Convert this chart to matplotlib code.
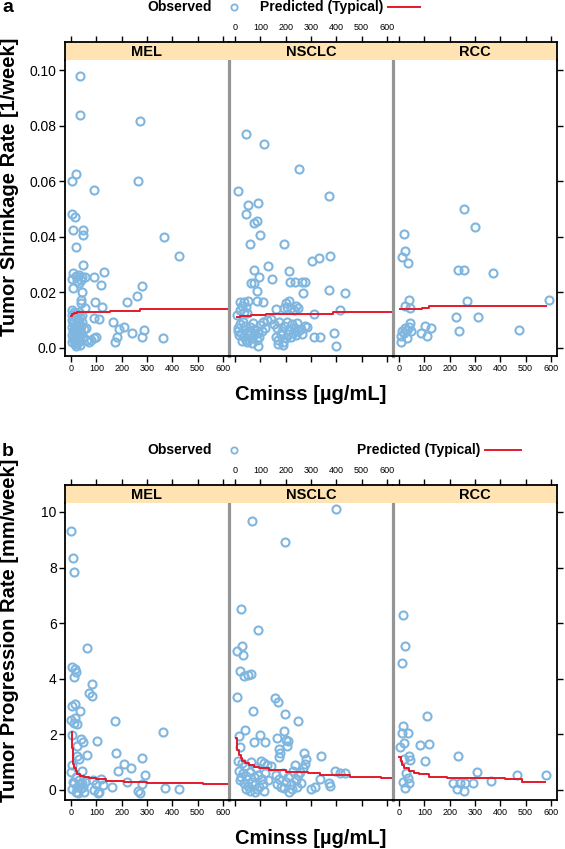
import matplotlib; matplotlib.use("Agg")
import matplotlib.pyplot as plt
from matplotlib.lines import Line2D

plt.rcParams['font.family'] = ['Liberation Sans', 'DejaVu Sans']

PANELS = ["MEL", "NSCLC", "RCC"]

# ---- (a) tumor shrinkage rate, observed ----
mel_a_x = [37, 37, 274, 18, 5, 266, 91, 4, 15, 7, 47, 47, 18, 368, 426, 48,
           7, 18, 31, 44, 54, 4, 24, 38, 30, 89, 132, 120, 279, 8, 42, 260, 219, 93,
           40, 40, 123, 55, 90, 112, 166, 209, 188, 290, 239, 182, 175, 279, 362,
           71, 80, 92, 98, 64,
           2, 10, 20, 30, 5, 15, 25, 35, 45, 3, 12, 22, 32, 42, 8, 18, 28, 38,
           2, 14, 24, 34, 50, 6, 16, 26, 40, 3, 11, 21, 31, 46, 7, 17, 27, 37,
           4, 14, 24, 34, 20, 58]
mel_a_y = [0.098, 0.0837, 0.0818, 0.0626, 0.0600, 0.0601, 0.0569, 0.0482, 0.0472, 0.0424, 0.0424, 0.0406,
           0.0362, 0.0400, 0.0329, 0.0299,
           0.0269, 0.0260, 0.0263, 0.0255, 0.0255, 0.0248, 0.0242, 0.0245, 0.0232, 0.0255, 0.0275, 0.0225,
           0.0224, 0.0215, 0.0203, 0.0187, 0.0165, 0.0167,
           0.0173, 0.0161, 0.0149, 0.0143, 0.0107, 0.0103, 0.0094, 0.0077, 0.0067, 0.0065, 0.0053, 0.0041,
           0.0023, 0.0041, 0.0034,
           0.0023, 0.0028, 0.0034, 0.0041, 0.0030,
           0.0135, 0.0128, 0.0125, 0.0130, 0.0118, 0.0112, 0.0115, 0.0110, 0.0118, 0.0100, 0.0098, 0.0102,
           0.0095, 0.0092, 0.0088, 0.0082, 0.0085, 0.0080,
           0.0075, 0.0070, 0.0072, 0.0066, 0.0068, 0.0060, 0.0055, 0.0058, 0.0052, 0.0045, 0.0042, 0.0046,
           0.0040, 0.0038, 0.0032, 0.0028, 0.0030, 0.0025,
           0.0020, 0.0015, 0.0018, 0.0012, 0.0008, 0.0072]

nsclc_a_x = [45, 116, 251, 13, 372, 51, 89, 45, 75, 87, 100, 57, 193, 304, 333, 376, 131, 73, 95, 145,
             215, 63, 75, 85, 217, 235, 263, 277, 268, 371, 435, 85, 111,
             21, 35, 50, 28, 42, 20, 35, 48, 8,
             161, 200, 213, 207, 193, 220, 233, 240, 248, 312, 416, 125, 141,
             10, 20, 30, 40, 50, 60, 70, 80, 90, 100, 110, 120, 15, 25, 35, 45, 55, 65, 75, 85, 95, 105,
             28, 48, 68, 92, 12, 62,
             155, 165, 175, 185, 195, 205, 215, 225, 235, 245, 260, 275, 285, 160, 170, 180, 190, 200,
             210, 220, 230, 240, 250, 170, 190, 265,
             336, 389, 397, 312]
nsclc_a_y = [0.0770, 0.0734, 0.0644, 0.0564, 0.0547, 0.0514, 0.0521, 0.0482, 0.0449, 0.0456, 0.0405,
             0.0373, 0.0373, 0.0313, 0.0322, 0.0330, 0.0295, 0.0281, 0.0257, 0.0247,
             0.0277, 0.0232, 0.0232, 0.0206, 0.0239, 0.0239, 0.0237, 0.0237, 0.0196, 0.0209, 0.0199,
             0.0170, 0.0164,
             0.0167, 0.0165, 0.0169, 0.0152, 0.0147, 0.0137, 0.0131, 0.0125, 0.0117,
             0.0139, 0.0160, 0.0169, 0.0148, 0.0142, 0.0142, 0.0137, 0.0151, 0.0145, 0.0121, 0.0135,
             0.0101, 0.0103,
             0.0070, 0.0085, 0.0095, 0.0080, 0.0062, 0.0075, 0.0088, 0.0068, 0.0055, 0.0082, 0.0092,
             0.0070, 0.0045, 0.0055, 0.0040, 0.0030, 0.0045, 0.0035, 0.0050, 0.0028, 0.0040, 0.0060,
             0.0025, 0.0020, 0.0019, 0.0008, 0.0060, 0.0058,
             0.0085, 0.0070, 0.0092, 0.0060, 0.0080, 0.0095, 0.0065, 0.0085, 0.0072, 0.0090, 0.0068,
             0.0080, 0.0075, 0.0040, 0.0030, 0.0045, 0.0020, 0.0035,
             0.0050, 0.0040, 0.0055, 0.0045, 0.0060, 0.0015, 0.0010, 0.0050,
             0.0041, 0.0053, 0.0008, 0.0038]

rcc_a_x = [20, 22, 12, 34, 258, 299, 232, 256, 372, 40, 270, 592, 22, 45, 223, 310, 45, 38, 25, 12,
           32, 18, 49, 9, 32, 9, 104, 128, 88, 109, 235, 473]
rcc_a_y = [0.0411, 0.0347, 0.0326, 0.0306, 0.0499, 0.0434, 0.0281, 0.0281, 0.0270, 0.0173, 0.0168,
           0.0173, 0.0151, 0.0145, 0.0110, 0.0113, 0.0091, 0.0077, 0.0071, 0.0062,
           0.0065, 0.0055, 0.0062, 0.0043, 0.0034, 0.0023, 0.0080, 0.0073, 0.0055, 0.0044, 0.0062, 0.0065]

# ---- (a) predicted (typical) step lines ----
mel_a_px = [1, 5, 11, 24, 152, 273, 624]
mel_a_py = [0.0115, 0.0121, 0.0127, 0.0131, 0.0134, 0.0140, 0.0140]
nsclc_a_px = [8, 20, 64, 121, 388, 624]
nsclc_a_py = [0.0112, 0.0116, 0.0120, 0.0123, 0.0128, 0.0128]
rcc_a_px = [5, 60, 91, 117, 582]
rcc_a_py = [0.0139, 0.0141, 0.0145, 0.0151, 0.0151]

# ---- (b) tumor progression rate, observed ----
mel_b_x = [1, 8, 11, 62, 4, 15, 18, 11, 82, 69, 81, 4, 15, 35, 1, 15, 24, 11, 175, 362, 4, 38, 48, 102,
           24, 179, 61, 24, 31, 279, 209, 237, 187, 292, 4, 1, 42,
           18, 31, 45, 11, 24, 38, 51, 18, 4, 8, 35, 28, 48, 55,
           88, 118, 98, 125, 92, 112, 105, 163, 222, 279, 263, 271, 370, 426]
mel_b_y = [9.30, 8.34, 7.85, 5.10, 4.44, 4.34, 4.23, 4.08, 3.81, 3.50, 3.38, 3.02, 3.09, 2.84, 2.52,
           2.58, 2.36, 2.40, 2.47, 2.10, 1.98, 1.83, 1.74, 1.75,
           1.58, 1.32, 1.26, 1.22, 1.10, 1.16, 0.94, 0.78, 0.68, 0.54, 0.90, 0.66, 0.70,
           0.48, 0.36, 0.26, 0.24, 0.12, 0.06, -0.06, -0.06, 0.02, 0.30, 0.20, -0.10, 0.10, 0.30,
           0.36, 0.38, 0.22, 0.18, 0.00, -0.06, -0.12, 0.10, 0.30, 0.22, -0.02, -0.10, 0.07, 0.05]

nsclc_b_x = [399, 65, 196, 23, 89, 28, 8, 32, 19, 37, 51, 64, 8, 157, 168, 71, 199, 248, 39, 15, 97,
             192, 165, 201, 208, 205, 75, 119, 19, 172, 177, 175, 271, 281, 275, 339, 395, 415, 435,
             335, 371, 375, 301, 317,
             11, 28, 41, 61, 81, 101, 115, 128, 141, 15, 30, 45, 60, 75, 90, 105, 120, 20, 35, 50, 65,
             80, 95, 110, 130, 43, 79, 116, 60, 85, 25,
             160, 175, 190, 200, 210, 220, 230, 240, 250, 260, 270, 180, 193, 212, 225, 245, 165, 255, 235]
nsclc_b_y = [10.11, 9.68, 8.92, 6.52, 5.74, 5.16, 5.00, 4.86, 4.29, 4.10, 4.14, 4.16, 3.33, 3.30, 3.15,
             2.85, 2.73, 2.47, 2.16, 1.95, 1.98,
             2.12, 1.88, 1.80, 1.76, 1.58, 1.74, 1.74, 1.53, 1.47, 1.32, 1.20, 1.32, 1.10, 0.94, 1.24,
             0.68, 0.62, 0.62, 0.38, 0.24, 0.14, 0.04, 0.12,
             1.06, 0.98, 0.88, 1.00, 0.80, 1.06, 0.98, 0.90, 0.86, 0.70, 0.60, 0.52, 0.65, 0.45, 0.55,
             0.40, 0.62, 0.35, 0.25, 0.15, 0.30, 0.20, 0.10, 0.22, 0.35, 0.05, -0.06, -0.02, -0.05,
             0.02, 0.45,
             0.55, 0.40, 0.62, 0.30, 0.48, 0.20, 0.70, 0.35, 0.55, 0.25, 0.80, 0.10, 0.07, -0.06, 0.05,
             0.12, 0.22, 0.65, 0.90]

rcc_b_x = [16, 25, 12, 109, 14, 12, 34, 18, 5, 84, 119, 18, 41, 45, 101, 231, 29, 34, 16, 41, 25, 306,
           466, 581, 213, 229, 242, 256, 262, 292, 364]
rcc_b_y = [6.31, 5.18, 4.58, 2.66, 2.30, 2.06, 2.04, 1.70, 1.53, 1.61, 1.64, 1.10, 1.22, 1.08, 1.06,
           1.21, 0.62, 0.44, 0.30, 0.24, 0.06, 0.64, 0.53, 0.55, 0.26, 0.02, 0.26, -0.02, 0.24, 0.24, 0.31]

# ---- (b) predicted (typical) step lines ----
mel_b_px = [2, 4, 6, 9, 13, 18, 25, 35, 50, 70, 100, 139, 210, 300, 400, 520, 624]
mel_b_py = [2.10, 1.50, 1.15, 0.95, 0.80, 0.68, 0.58, 0.50, 0.45, 0.42, 0.40, 0.34, 0.30, 0.26,
            0.24, 0.21, 0.18]
nsclc_b_px = [5, 9, 15, 22, 29, 40, 56, 75, 96, 136, 203, 289, 336, 456, 576, 624]
nsclc_b_py = [1.86, 1.45, 1.25, 1.15, 1.05, 0.97, 0.90, 0.83, 0.78, 0.72, 0.64, 0.60, 0.55, 0.48,
              0.42, 0.42]
rcc_b_px = [1, 6, 12, 20, 38, 60, 78, 117, 190, 289, 420, 486, 578]
rcc_b_py = [1.20, 1.05, 0.90, 0.80, 0.68, 0.60, 0.56, 0.48, 0.44, 0.42, 0.38, 0.30, 0.30]

x_ticks = [0, 100, 200, 300, 400, 500, 600]
ya_ticks = [0.0, 0.02, 0.04, 0.06, 0.08, 0.10]
ya_labels = ["0.0", "0.02", "0.04", "0.06", "0.08", "0.10"]
yb_ticks = [0, 2, 4, 6, 8, 10]

W, H = 565, 849
OBS_C = "#7fb6df"
PRED_C = "#e3192b"
STRIP_C = "#ffe3b3"
DIV_C = "#959595"
STRIP_H = 18


def fx(px): return px / W
def fy(py): return 1 - py / H


def row(top_px, bot_px, ylim, yticks, ylabels, obs, pred, ylab, letter, leg):
    # top_px = top of strip, bot_px = bottom of plotting region (pixels from top)
    x0, x1 = 65, 557
    pw = (x1 - x0) / 3
    ptop = top_px + STRIP_H
    for i in range(3):
        left = fx(x0 + i * pw)
        ax = fig.add_axes([left, fy(bot_px), pw / W, (bot_px - ptop) / H])
        ax.set_facecolor("none")
        st = fig.add_axes([left, fy(ptop), pw / W, STRIP_H / H])
        ox, oy = obs[i]
        px, py = pred[i]
        ax.plot(ox, oy, ls="none", marker="o", ms=5.8, mfc="none", mec=OBS_C, mew=1.5, clip_on=False)
        ax.plot(px, py, color=PRED_C, lw=1.4, drawstyle="steps-post")
        ax.set_xlim(-24, 624); ax.set_ylim(*ylim)
        ax.set_xticks(x_ticks)
        ax.tick_params(axis="x", direction="out", length=4, width=1, labelsize=6.5, pad=2,
                       labelbottom=(i != 1))
        ax.set_yticks(yticks)
        if i == 0:
            ax.set_yticklabels(ylabels)
            ax.tick_params(axis="y", direction="out", length=4, width=1, labelsize=10, pad=2)
        elif i == 2:
            ax.yaxis.tick_right()
            ax.tick_params(axis="y", direction="out", length=4, width=1, labelright=False)
        else:
            ax.tick_params(axis="y", length=0, labelleft=False)
        ax.spines["top"].set_visible(False)
        ax.spines["bottom"].set_linewidth(1.3)
        ax.spines["left"].set_visible(i == 0)
        ax.spines["left"].set_linewidth(1.3)
        if i == 2:
            ax.spines["right"].set_linewidth(1.3)
        else:
            ax.spines["right"].set_color(DIV_C); ax.spines["right"].set_linewidth(2.3)

        st.set_facecolor(STRIP_C)
        st.set_xlim(-24, 624); st.set_ylim(0, 1)
        st.xaxis.tick_top(); st.set_xticks(x_ticks); st.set_yticks([])
        st.tick_params(axis="x", direction="out", length=4.5, width=1, labelsize=6.5, pad=2.5,
                       labeltop=(i == 1))
        st.spines["bottom"].set_visible(False)
        st.spines["top"].set_linewidth(1.3)
        st.spines["left"].set_visible(i == 0); st.spines["left"].set_linewidth(1.3)
        st.spines["right"].set_visible(i == 2); st.spines["right"].set_linewidth(1.3)
        st.text(0.5, 0.45, PANELS[i], transform=st.transAxes, ha="center", va="center",
                fontsize=10.5, fontweight="bold")

    fig.text(fx(10), fy((top_px + bot_px) / 2 - 12), ylab, rotation=90, ha="center", va="center",
             fontsize=14.5, fontweight="bold")
    fig.text(fx(311), fy(bot_px + 39), "Cminss [\u00b5g/mL]", ha="center", va="center",
             fontsize=14.5, fontweight="bold")
    ly = top_px - 35
    fig.text(fx(2), fy(ly + 1), letter, ha="left", va="center", fontsize=14, fontweight="bold")
    fig.text(fx(212), fy(ly), "Observed", ha="right", va="center", fontsize=10, fontweight="bold")
    fig.add_artist(Line2D([fx(234)], [fy(ly)], ls="none", marker="o", ms=4.5, mfc="none",
                          mec=OBS_C, mew=1.3))
    fig.text(fx(leg[0]), fy(ly), "Predicted (Typical)", ha="right", va="center",
             fontsize=10, fontweight="bold")
    fig.add_artist(Line2D([fx(leg[1]), fx(leg[2])], [fy(ly), fy(ly)], color=PRED_C, lw=1.4))


fig = plt.figure(figsize=(W / 100, H / 100), dpi=100)

row(42, 356, (-0.0029, 0.1036), ya_ticks, ya_labels,
    [(mel_a_x, mel_a_y), (nsclc_a_x, nsclc_a_y), (rcc_a_x, rcc_a_y)],
    [(mel_a_px, mel_a_py), (nsclc_a_px, nsclc_a_py), (rcc_a_px, rcc_a_py)],
    "Tumor Shrinkage Rate [1/week]", "a", (383, 388, 420))

row(485, 800, (-0.36, 10.32), yb_ticks, [str(t) for t in yb_ticks],
    [(mel_b_x, mel_b_y), (nsclc_b_x, nsclc_b_y), (rcc_b_x, rcc_b_y)],
    [(mel_b_px, mel_b_py), (nsclc_b_px, nsclc_b_py), (rcc_b_px, rcc_b_py)],
    "Tumor Progression Rate [mm/week]", "b", (480, 485, 521))

fig.savefig("out.png", dpi=100)
